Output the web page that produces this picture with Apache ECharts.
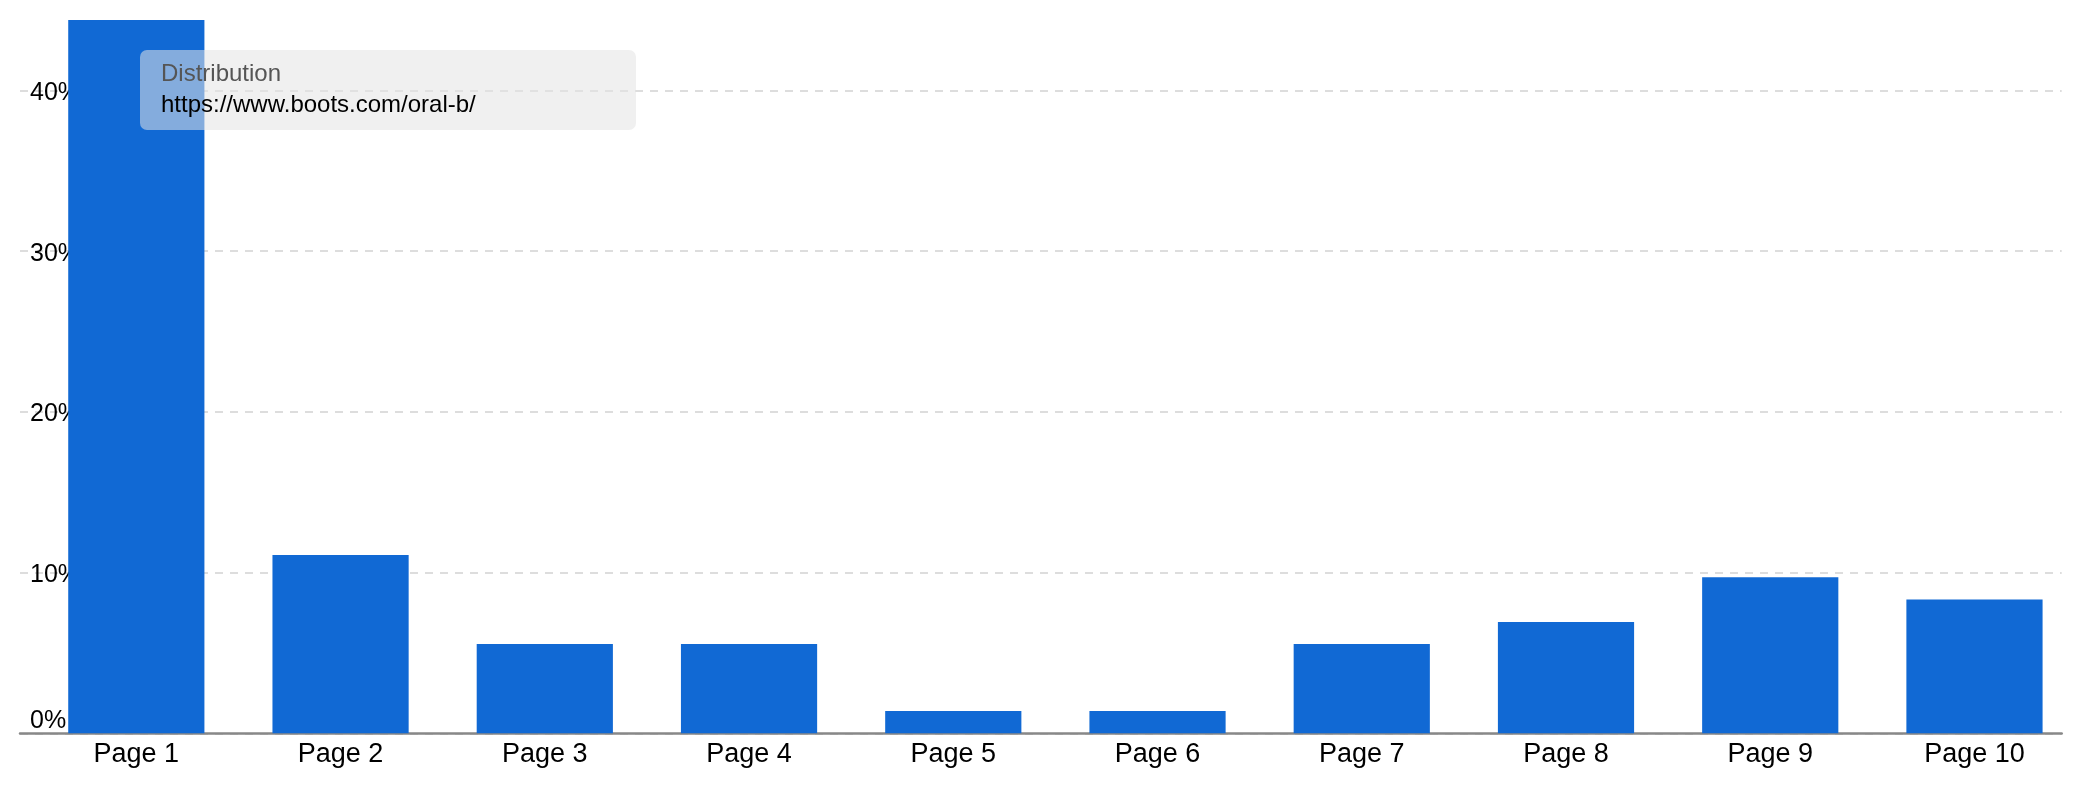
<!DOCTYPE html>
<html>
<head>
<meta charset="utf-8">
<script src="https://cdn.jsdelivr.net/npm/echarts@6/dist/echarts.min.js"></script>
<style>
html,body{margin:0;padding:0;background:#fff;}
#chart{width:2082px;height:800px;}
</style>
</head>
<body>
<div id="chart"></div>
<script>
const categories = ['Page 1','Page 2','Page 3','Page 4','Page 5','Page 6','Page 7','Page 8','Page 9','Page 10'];
const distribution = [44.44, 11.11, 5.56, 5.56, 1.39, 1.39, 5.56, 6.94, 9.72, 8.33];
const yTicks = [0, 10, 20, 30, 40];
const seriesName = 'Distribution';
const seriesUrl = 'https://www.boots.com/oral-b/';

const FONT = "'Liberation Sans', Arial, Helvetica, sans-serif";
const chart = echarts.init(document.getElementById('chart'), null, {renderer: 'canvas'});

chart.setOption({
  animation: false,
  backgroundColor: '#ffffff',
  grid: [
    {left: 20, right: 20.3, top: 90.5, bottom: 66.7},
    {left: 34.2, right: 5.4, top: 20, bottom: 66.7}
  ],
  xAxis: [
    {
      gridIndex: 0, type: 'category', data: categories,
      axisLine: {show: true, lineStyle: {color: '#888888', width: 2.5}},
      axisTick: {show: false}, axisLabel: {show: false}, splitLine: {show: false}
    },
    {
      gridIndex: 1, type: 'category', data: categories,
      axisLine: {show: false}, axisTick: {show: false},
      axisLabel: {show: true, color: '#000', fontSize: 27, fontFamily: FONT, margin: 8, interval: 0}
    }
  ],
  yAxis: [
    {
      gridIndex: 0, type: 'value', min: yTicks[0], max: yTicks[yTicks.length - 1], interval: 10,
      axisLine: {show: false}, axisTick: {show: false},
      axisLabel: {
        inside: true, margin: 10, color: '#000', fontSize: 25, fontFamily: FONT,
        formatter: function (v) { return v === 0 ? '{z|0%}' : '{n|' + v + '%}'; },
        rich: {
          z: {fontSize: 25, fontFamily: FONT, color: '#000', padding: [0, 0, 25, 0]},
          n: {fontSize: 25, fontFamily: FONT, color: '#000', padding: [5, 0, 0, 0]}
        }
      },
      splitLine: {show: true, lineStyle: {color: '#dddddd', width: 2, type: [8, 7]}}
    },
    {
      gridIndex: 1, type: 'value', min: 0, max: 44.44,
      show: false, splitLine: {show: false}
    }
  ],
  series: [
    {
      name: seriesName, type: 'bar', xAxisIndex: 1, yAxisIndex: 1,
      data: distribution, barWidth: 136.2,
      itemStyle: {color: '#1169d4'}, z: 3
    }
  ],
  graphic: [
    {
      type: 'rect', z: 100,
      shape: {x: 140, y: 50, width: 496, height: 80, r: 7},
      style: {fill: 'rgba(227,227,227,0.55)'}
    },
    {
      type: 'text', z: 101, x: 161, y: 74.5,
      style: {text: seriesName, fill: '#555555', font: '24px ' + FONT, textVerticalAlign: 'middle'}
    },
    {
      type: 'text', z: 101, x: 161, y: 105.5,
      style: {text: seriesUrl, fill: '#000000', font: '24px ' + FONT, textVerticalAlign: 'middle'}
    }
  ]
});
</script>
</body>
</html>
